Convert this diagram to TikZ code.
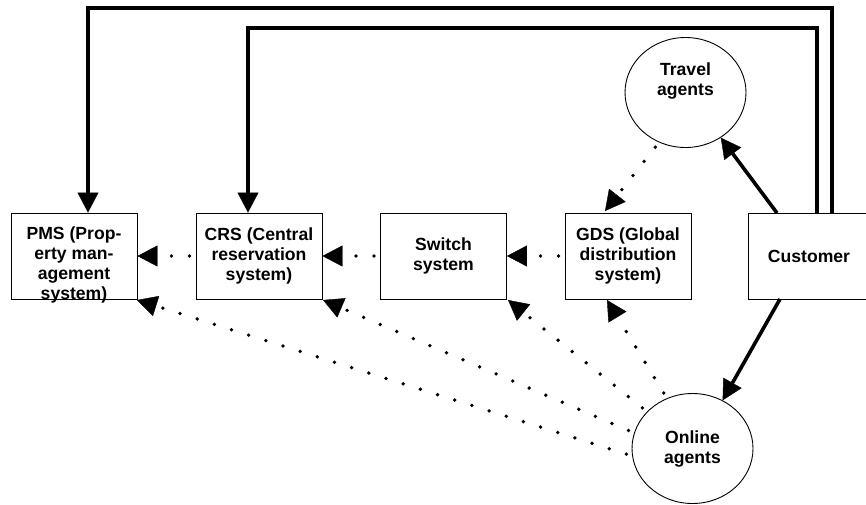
\documentclass[tikz,border=0pt]{standalone}
\usepackage{fontspec}
\setmainfont{Liberation Sans}
\usetikzlibrary{arrows.meta,shapes.geometric}
\tikzset{
  box/.style={draw, line width=0.9pt, minimum width=126pt, minimum height=86pt,
    inner sep=0pt, align=center},
  agent/.style={draw, ellipse, line width=0.9pt, minimum width=121pt,
    minimum height=110pt, inner sep=0pt, align=center},
  lbl/.style={font=\bfseries\fontsize{17.6}{20}\selectfont, align=center, inner sep=0pt},
  flow/.style={line width=3.6pt, line join=miter,
    -{Triangle[length=20pt,width=21pt,line width=0.4pt]}},
  feed/.style={line width=3.8pt, line cap=round, dash pattern=on 0pt off 18pt,
    dash phase=12pt, -{Triangle[length=20pt,width=21pt,line width=0.4pt]}}
}
\begin{document}
\begin{tikzpicture}[x=1pt,y=-1pt]
\useasboundingbox (0,0) rectangle (866,504);
\begin{scope}
\clip (0,0) rectangle (866,504);

% systems along the distribution chain
\node[box] (pms) at (74,256) {};
\node[lbl, anchor=north] (pmstext) at (74,227) {PMS (Prop-\\erty man-\\agement\\system)};
\node[box, lbl] (crs) at (259,256) {CRS (Central\\reservation\\system)};
\node[box, lbl] (switch) at (443.5,256) {Switch\\system};
\node[box, lbl] (gds) at (628,256) {GDS (Global\\distribution\\system)};
\node[box, lbl, minimum width=122pt] (cust) at (809,256) {Customer};

% agents
\node[agent, lbl] (travel) at (685.5,92.5) {Travel\\agents\\[6pt]};
\node[agent, lbl] (online) at (692.5,448.5) {Online\\agents};

% direct bookings from the customer
\coordinate (c1) at (832,8);
\coordinate (c2) at (88,8);
\coordinate (c3) at (817,28);
\coordinate (c4) at (248,28);
\draw[flow] (cust.north -| c1) -- (c1) -- (c2) -- (pms.north -| c2);
\draw[flow] (cust.north -| c3) -- (c3) -- (c4) -- (crs.north -| c4);

% customer to the agents
\coordinate (ct) at (777,213);
\coordinate (cb) at (780,299);
\draw[flow] (ct) -- (travel.-52);
\draw[flow] (cb) -- (online.58);

% information flow along the chain
\draw[feed] (gds.west) -- (switch.east);
\draw[feed] (switch.west) -- (crs.east);
\draw[feed] (crs.west) -- (pms.east);

% travel agents into the GDS
\coordinate (gt) at (605,211);
\draw[feed] (travel.-118) -- (gt);

% online agents into every system
\coordinate (o1) at (137,300);
\coordinate (o2) at (323,300);
\coordinate (o3) at (508,300);
\coordinate (o4) at (607,300);
\draw[feed] (online.187) -- (o1);
\draw[feed] (online.165) -- (o2);
\draw[feed] (online.141) -- (o3);
\draw[feed] (online.117) -- (o4);
\end{scope}
\end{tikzpicture}
\end{document}
